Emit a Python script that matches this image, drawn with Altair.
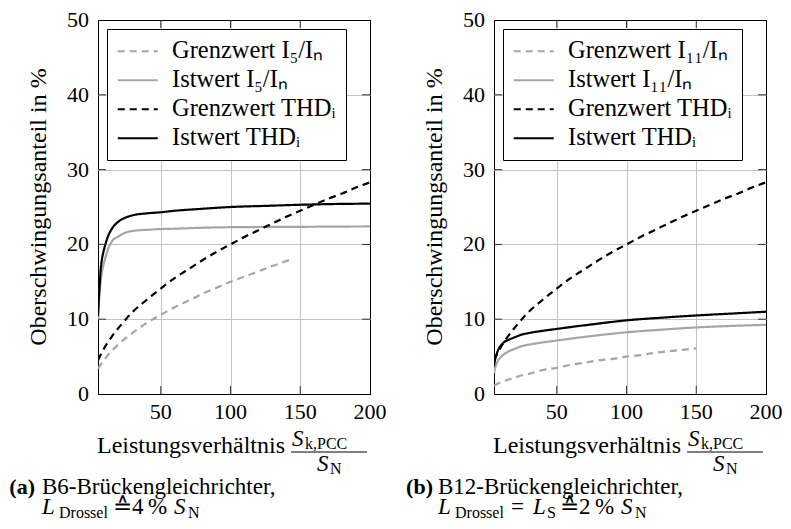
import altair as alt
import pandas as pd

FONT = "Liberation Serif, Times New Roman, serif"
GRAY = "#a6a6a6"
GRID = "#c4c4c4"
W, H = 272, 374

# ---------------- data ----------------
x_ticks = [50, 100, 150, 200]
y_ticks = [0, 10, 20, 30, 40, 50]
inner_x_ticks = [50, 100, 150]
inner_y_ticks = [10, 20, 30, 40]

# Grenzwert THD_I (both panels)
x_limit_thd = [5, 10, 15, 20, 25, 30, 40, 50, 60, 70, 80, 90, 100, 110, 120, 130, 140, 150, 160, 170, 180, 190, 200]
y_limit_thd = [4.5, 6.3, 7.7, 8.9, 10.0, 11.0, 12.6, 14.1, 15.5, 16.7, 17.9, 19.0, 20.0, 21.0, 21.9, 22.8, 23.7, 24.5, 25.3, 26.1, 26.8, 27.6, 28.3]

# (a) B6
a_x_limit_i5 = [5, 10, 15, 20, 25, 30, 40, 50, 60, 70, 80, 90, 100, 110, 120, 130, 145]
a_y_limit_i5 = [3.4, 4.7, 5.8, 6.7, 7.5, 8.2, 9.5, 10.6, 11.6, 12.5, 13.4, 14.2, 15.0, 15.7, 16.4, 17.1, 18.1]
a_x_ist = [5, 5.5, 6, 7, 8, 9, 10, 12, 15, 20, 25, 30, 40, 50, 60, 75, 100, 125, 150, 175, 200]
a_y_ist_thd = [10.4, 12.5, 14.0, 16.8, 18.2, 19.1, 19.8, 21.0, 22.1, 23.1, 23.6, 23.9, 24.15, 24.3, 24.5, 24.7, 25.0, 25.15, 25.3, 25.4, 25.45]
a_y_ist_i5 = [10.0, 11.8, 13.2, 15.2, 16.5, 17.3, 18.0, 19.3, 20.4, 21.1, 21.6, 21.8, 21.95, 22.05, 22.1, 22.2, 22.3, 22.33, 22.35, 22.38, 22.4]

# (b) B12
b_x_limit_i11 = [5, 10, 15, 20, 25, 30, 40, 50, 60, 70, 80, 90, 100, 110, 120, 130, 140, 150]
b_y_limit_i11 = [1.1, 1.6, 1.9, 2.2, 2.5, 2.7, 3.2, 3.5, 3.9, 4.2, 4.5, 4.7, 5.0, 5.2, 5.5, 5.7, 5.9, 6.1]
b_x_ist = [5, 6, 7, 8, 10, 12, 15, 20, 25, 30, 40, 50, 60, 75, 100, 125, 150, 175, 200]
b_y_ist_thd = [3.8, 4.8, 5.4, 5.9, 6.5, 6.9, 7.2, 7.6, 7.95, 8.15, 8.45, 8.7, 8.95, 9.3, 9.85, 10.2, 10.5, 10.75, 11.0]
b_y_ist_i11 = [2.8, 3.6, 4.1, 4.5, 4.95, 5.3, 5.65, 6.05, 6.4, 6.6, 6.9, 7.15, 7.4, 7.75, 8.25, 8.6, 8.9, 9.1, 9.25]

a_names = ["Grenzwert I₅/Iₙ", "Istwert I₅/Iₙ", "Grenzwert THDᵢ", "Istwert THDᵢ"]
b_names = ["Grenzwert I₁₁/Iₙ", "Istwert I₁₁/Iₙ", "Grenzwert THDᵢ", "Istwert THDᵢ"]

X_TITLE = "Leistungsverhältnis"
Y_TITLE = "Oberschwingungsanteil in %"


def series_frame(parts):
    rows = []
    for name, xs, ys in parts:
        rows += [{"x": a, "y": b, "serie": name} for a, b in zip(xs, ys)]
    return pd.DataFrame(rows)


def text_layer(s, dx, dy, size=23, style="normal", weight="normal", align="left", angle=0):
    return alt.Chart(pd.DataFrame({"t": [s]})).mark_text(
        align=align, baseline="alphabetic", font=FONT, fontSize=size,
        fontStyle=style, fontWeight=weight, color="black", angle=angle
    ).encode(x=alt.value(dx), y=alt.value(dy), text="t:N")


def panel(df, names, caption_tag, tag_dx, caption_line1, caption_line2):
    leg = alt.Legend(
        title=None, orient="none", legendX=9, legendY=9,
        fillColor="white", strokeColor="black", padding=10, cornerRadius=0,
        symbolType="M-2,0H2", symbolSize=400, symbolStrokeWidth=2.2,
        symbolOffset=8.5, labelOffset=22, rowPadding=4,
        labelFont=FONT, labelFontSize=24.5, labelColor="black", labelLimit=400,
    )
    xscale = alt.Scale(domain=[5, 200], nice=False, zero=False)
    yscale = alt.Scale(domain=[0, 50], nice=False)
    x_axis = alt.Axis(
        values=x_ticks, grid=True, labels=False, ticks=False, domain=False, title=None,
        gridColor={"condition": {"test": "datum.value >= 200", "value": "black"}, "value": GRID})
    y_axis = alt.Axis(
        values=y_ticks, grid=True, labels=False, ticks=False, domain=False, title=None,
        gridColor={"condition": {"test": "datum.value <= 0 || datum.value >= 50", "value": "black"}, "value": GRID})
    lines = alt.Chart(df).mark_line(strokeWidth=2.2, interpolate="monotone", clip=True).encode(
        x=alt.X("x:Q", scale=xscale, axis=x_axis),
        y=alt.Y("y:Q", scale=yscale, axis=y_axis),
        color=alt.Color("serie:N", scale=alt.Scale(domain=names, range=[GRAY, GRAY, "black", "black"]), legend=leg),
        strokeDash=alt.StrokeDash("serie:N", scale=alt.Scale(domain=names, range=[[7, 5], [1, 0], [7, 5], [1, 0]]), legend=leg),
    )

    xt = pd.DataFrame({"x": inner_x_ticks})
    yt = pd.DataFrame({"y": inner_y_ticks})
    tick_style = dict(color="#333333", strokeWidth=1)
    tx = alt.X("x:Q", axis=x_axis)
    ty = alt.Y("y:Q", axis=y_axis)
    t_bottom = alt.Chart(xt).mark_rule(**tick_style).encode(x=tx, y=alt.value(H), y2=alt.value(H - 8))
    t_top = alt.Chart(xt).mark_rule(**tick_style).encode(x=tx, y=alt.value(0), y2=alt.value(8))
    t_left = alt.Chart(yt).mark_rule(**tick_style).encode(y=ty, x=alt.value(0), x2=alt.value(8))
    t_right = alt.Chart(yt).mark_rule(**tick_style).encode(y=ty, x=alt.value(W), x2=alt.value(W - 8))

    # tick labels (serif), placed through the scales
    xl = pd.DataFrame({"x": x_ticks, "lab": [str(v) for v in x_ticks]})
    yl = pd.DataFrame({"y": y_ticks, "lab": [str(v) for v in y_ticks]})
    x_labels = alt.Chart(xl).mark_text(
        align="center", baseline="alphabetic", font=FONT, fontSize=22, color="black"
    ).encode(x=tx, y=alt.value(H + 25), text="lab:N")
    y_labels = alt.Chart(yl).mark_text(
        align="right", baseline="alphabetic", font=FONT, fontSize=22, color="black", dy=7
    ).encode(y=ty, x=alt.value(-9), text="lab:N")

    titles = [
        text_layer(X_TITLE, -1, 433, 24),
        text_layer(Y_TITLE, -52, H / 2, 24, align="center", angle=270),
    ]

    # fraction S_k,PCC / S_N of the x-axis title
    frac_bar = alt.Chart(pd.DataFrame({"t": [0]})).mark_rule(color="black", strokeWidth=1).encode(
        x=alt.value(193), x2=alt.value(269), y=alt.value(432))
    frac = [
        text_layer("S", 194, 426, 23, style="italic"),
        text_layer("k,PCC", 207, 429, 16),
        frac_bar,
        text_layer("S", 219, 451, 23, style="italic"),
        text_layer("N", 232, 454, 16),
    ]

    cap = [text_layer(caption_tag, tag_dx, 474, 22, weight="bold", align="right"),
           text_layer(caption_line1, -56, 474, 23)]
    for s, dx, size, style, dy in caption_line2:
        cap.append(text_layer(s, dx, dy, size, style=style))

    return alt.layer(lines, t_bottom, t_top, t_left, t_right, x_labels, y_labels,
                     *titles, *frac, *cap).properties(width=W, height=H)


df_a = series_frame([
    (a_names[0], a_x_limit_i5, a_y_limit_i5),
    (a_names[1], a_x_ist, a_y_ist_i5),
    (a_names[2], x_limit_thd, y_limit_thd),
    (a_names[3], a_x_ist, a_y_ist_thd),
])
df_b = series_frame([
    (b_names[0], b_x_limit_i11, b_y_limit_i11),
    (b_names[1], b_x_ist, b_y_ist_i11),
    (b_names[2], x_limit_thd, y_limit_thd),
    (b_names[3], b_x_ist, b_y_ist_thd),
])

cap2_a = [("L", -56, 23, "italic", 494), ("Drossel", -39, 16, "normal", 498),
          ("≙4\u2009%", 15, 23, "normal", 494),
          ("S", 76, 23, "italic", 494), ("N", 90, 16, "normal", 498)]
cap2_b = [("L", -56, 23, "italic", 494), ("Drossel", -39, 16, "normal", 498),
          ("=", 17, 23, "normal", 494), ("L", 39, 23, "italic", 494), ("S", 53, 16, "normal", 498),
          ("≙2\u2009%", 66, 23, "normal", 494),
          ("S", 127, 23, "italic", 494), ("N", 141, 16, "normal", 498)]

left = panel(df_a, a_names, "(a)", -63, "B6-Brückengleichrichter,", cap2_a)
right = panel(df_b, b_names, "(b)", -61, "B12-Brückengleichrichter,", cap2_b)

chart = alt.hconcat(left, right, spacing=18).resolve_scale(
    color="independent", strokeDash="independent"
).configure(font=FONT).configure_legend(
    labelFont=FONT
).configure_text(font=FONT).configure_view(
    stroke="black", strokeWidth=1
).properties(padding={"left": 0, "top": 0, "right": 0, "bottom": 0})

chart.save("out.html", embed_options={"renderer": "svg", "actions": False})
